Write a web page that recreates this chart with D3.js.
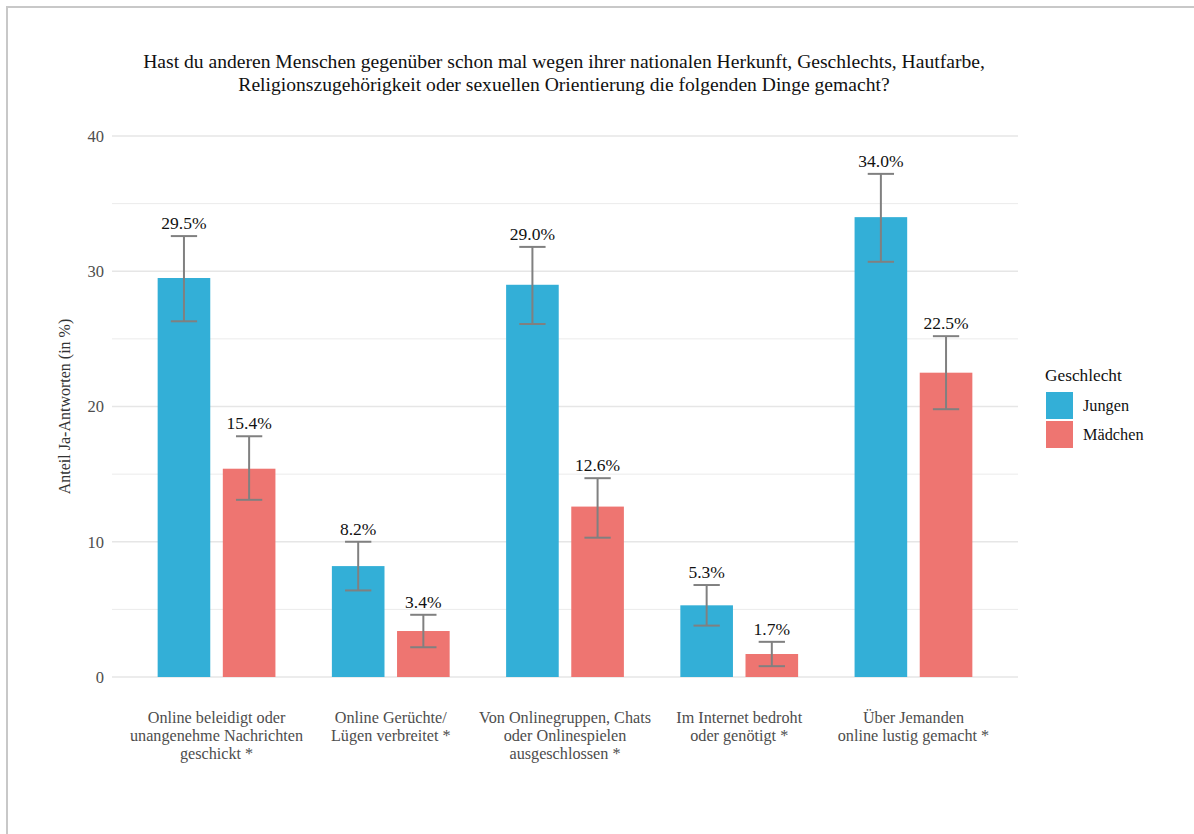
<!DOCTYPE html>
<html><head><meta charset="utf-8">
<script src="https://cdn.jsdelivr.net/npm/d3@7"></script>
<style>
html,body{margin:0;padding:0;background:#fff;}
svg{display:block;}
</style></head>
<body>
<svg id="chart" width="1194" height="834" font-family="'Liberation Serif', 'Times New Roman', Times, 'DejaVu Serif', serif"></svg>
<script>
const categories = [
  ["Online beleidigt oder","unangenehme Nachrichten","geschickt *"],
  ["Online Gerüchte/","Lügen verbreitet *"],
  ["Von Onlinegruppen, Chats","oder Onlinespielen","ausgeschlossen *"],
  ["Im Internet bedroht","oder genötigt *"],
  ["Über Jemanden","online lustig gemacht *"]
];
const groups = ["Jungen","Mädchen"];
const jungen = [29.5, 8.2, 29.0, 5.3, 34.0];
const maedchen = [15.4, 3.4, 12.6, 1.7, 22.5];
const jungenLow = [26.3, 6.4, 26.1, 3.8, 30.7];
const jungenHigh = [32.6, 10.0, 31.8, 6.8, 37.2];
const maedchenLow = [13.1, 2.2, 10.3, 0.8, 19.8];
const maedchenHigh = [17.8, 4.6, 14.7, 2.6, 25.2];
const yTicks = [0, 10, 20, 30, 40];
const yMinor = [5, 15, 25, 35];
const colors = ["#33AFD7", "#EE7571"];

(function(){
const svg = d3.select("#chart");

// outer frame
svg.append("rect").attr("x",0).attr("y",0).attr("width",1194).attr("height",834).attr("fill","#fff");
svg.append("line").attr("x1",7).attr("x2",1194).attr("y1",7).attr("y2",7).attr("stroke","#c8c8c8").attr("stroke-width",2);
svg.append("line").attr("x1",7).attr("x2",7).attr("y1",6).attr("y2",834).attr("stroke","#c8c8c8").attr("stroke-width",2);

const pL = 112, pR = 1018, pT = 136, pB = 677;
const y = d3.scaleLinear().domain([0,40]).range([pB, pT]);
const x = d3.scaleLinear().domain([0.4, 5.6]).range([pL, pR]);

// grid
svg.append("g").selectAll("line").data(yMinor).join("line")
  .attr("x1",pL).attr("x2",pR).attr("y1",d=>y(d)).attr("y2",d=>y(d))
  .attr("stroke","#ebebeb").attr("stroke-width",1);
svg.append("g").selectAll("line").data(yTicks).join("line")
  .attr("x1",pL).attr("x2",pR).attr("y1",d=>y(d)).attr("y2",d=>y(d))
  .attr("stroke","#e6e6e6").attr("stroke-width",1.6);

// y tick labels
svg.append("g").selectAll("text").data(yTicks).join("text")
  .attr("x",104).attr("y",d=>y(d)).attr("dy","0.35em").attr("text-anchor","end")
  .attr("font-size",16.5).attr("fill","#4d4d4d").text(d=>d);

// y title
svg.append("text").attr("transform",`translate(70,${(pT+pB)/2}) rotate(-90)`)
  .attr("text-anchor","middle").attr("font-size",16).attr("fill","#333")
  .text("Anteil Ja-Antworten (in %)");

// title
const title = ["Hast du anderen Menschen gegenüber schon mal wegen ihrer nationalen Herkunft, Geschlechts, Hautfarbe,",
               "Religionszugehörigkeit oder sexuellen Orientierung die folgenden Dinge gemacht?"];
svg.append("g").selectAll("text").data(title).join("text")
  .attr("x",564).attr("y",(d,i)=>68+i*23).attr("text-anchor","middle")
  .attr("font-size",19.6).attr("fill","#111").text(d=>d);

// bars
const barW = 0.302, offset = 0.187;
const series = [
  {name:groups[0], vals:jungen, lo:jungenLow, hi:jungenHigh, off:-offset, color:colors[0]},
  {name:groups[1], vals:maedchen, lo:maedchenLow, hi:maedchenHigh, off:offset, color:colors[1]}
];
series.forEach(s=>{
  const g = svg.append("g");
  const data = s.vals.map((v,i)=>({v, lo:s.lo[i], hi:s.hi[i], c:i+1+s.off}));
  g.selectAll("rect").data(data).join("rect")
    .attr("x",d=>x(d.c-barW/2)).attr("width",d=>x(d.c+barW/2)-x(d.c-barW/2))
    .attr("y",d=>y(d.v)).attr("height",d=>y(0)-y(d.v)).attr("fill",s.color);
  const eb = g.selectAll("g.eb").data(data).join("g").attr("class","eb");
  const capW = barW/2;
  eb.append("line").attr("x1",d=>x(d.c)).attr("x2",d=>x(d.c)).attr("y1",d=>y(d.lo)).attr("y2",d=>y(d.hi))
    .attr("stroke","#808080").attr("stroke-width",2);
  eb.append("line").attr("x1",d=>x(d.c-capW/2)).attr("x2",d=>x(d.c+capW/2)).attr("y1",d=>y(d.hi)).attr("y2",d=>y(d.hi))
    .attr("stroke","#808080").attr("stroke-width",2);
  eb.append("line").attr("x1",d=>x(d.c-capW/2)).attr("x2",d=>x(d.c+capW/2)).attr("y1",d=>y(d.lo)).attr("y2",d=>y(d.lo))
    .attr("stroke","#808080").attr("stroke-width",2);
  eb.append("text").attr("x",d=>x(d.c)).attr("y",d=>y(d.hi)-7).attr("text-anchor","middle")
    .attr("font-size",17.5).attr("fill","#111").text(d=>d.v.toFixed(1)+"%");
});

// x labels
const xl = svg.append("g").selectAll("g").data(categories).join("g");
xl.selectAll("text").data((d,i)=>d.map(t=>({t,i}))).join("text")
  .attr("x",d=>x(d.i+1)).attr("y",(d,j)=>723+j*18).attr("text-anchor","middle")
  .attr("font-size",16.2).attr("fill","#4d4d4d").text(d=>d.t);

// legend
const lg = svg.append("g");
lg.append("text").attr("x",1045).attr("y",381).attr("font-size",17.3).attr("fill","#111").text("Geschlecht");
groups.forEach((gname,i)=>{
  lg.append("rect").attr("x",1046).attr("y",392+i*29).attr("width",27).attr("height",27).attr("fill",colors[i]);
  lg.append("text").attr("x",1083).attr("y",392+i*29+13.5).attr("dy","0.35em").attr("font-size",16.3).attr("fill","#111").text(gname);
});
})();
</script>
</body></html>
